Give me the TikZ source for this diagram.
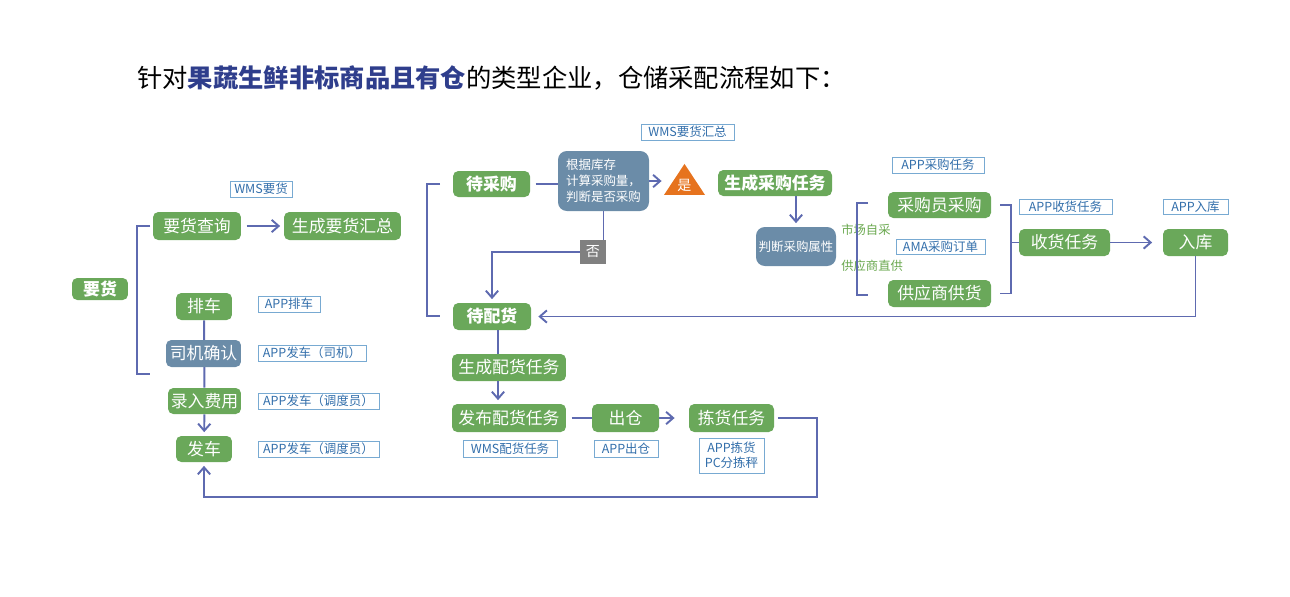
\documentclass[tikz,border=0pt]{standalone}
\usepackage{fontspec}
\setmainfont{Noto Sans CJK SC}
\usetikzlibrary{arrows.meta,shapes.geometric,backgrounds}
\definecolor{taskgreen}{RGB}{106,168,90}
\definecolor{judgeblue}{RGB}{107,140,168}
\definecolor{flowblue}{RGB}{94,106,176}
\definecolor{tagline}{RGB}{120,170,210}
\definecolor{tagtext}{RGB}{50,110,170}
\definecolor{titlenavy}{RGB}{47,62,140}
\definecolor{yesorange}{RGB}{230,115,30}
\definecolor{nogray}{RGB}{128,128,128}
\definecolor{choicegreen}{RGB}{106,168,79}
\tikzset{%
	task/.style   = {fill=taskgreen, text=white, rounded corners=3pt, inner sep=0pt,
		minimum height=0.54cm, font=\fontsize{9.6}{11}\selectfont},
	key/.style    = {task, font=\fontsize{9.6}{11}\selectfont\bfseries}, % bold step
	judge/.style  = {fill=judgeblue, text=white, rounded corners=5pt, inner sep=0pt,
		font=\fontsize{7.1}{9.1}\selectfont},
	tag/.style    = {draw=tagline, line width=0.5pt, text=tagtext, inner sep=0pt,
		minimum height=0.32cm, font=\fontsize{7.1}{8.6}\selectfont}, % system label
	choice/.style = {text=choicegreen, inner sep=0pt, anchor=west,
		font=\fontsize{7}{8}\selectfont},
	flow/.style   = {draw=flowblue, line width=1.1pt},
	>={Straight Barb[length=4pt,width=7pt]}
}

\begin{document}
\begin{tikzpicture}[x=0.02cm,y=-0.02cm]
                \useasboundingbox (0,0) rectangle (1290,596);
                \node[anchor=west, inner sep=0pt, font=\fontsize{14.4}{16}\selectfont] (title) at (137,78)
                    {针对{\color{titlenavy}\bfseries 果蔬生鲜非标商品且有仓}的类型企业，仓储采配流程如下：};

                % left: ordering and dispatch
                \node[key, minimum width=1.12cm, minimum height=0.44cm] (yaohuo) at (100,289) {要货};
                \node[task, minimum width=1.76cm, minimum height=0.56cm] (cx) at (197,226) {要货查询};
                \node[task, minimum width=2.34cm, minimum height=0.56cm] (hz) at (342.5,226) {生成要货汇总};
                \node[task, minimum width=1.12cm] (pc) at (204,306.5) {排车};
                \node[judge, minimum width=1.5cm, minimum height=0.54cm, rounded corners=3pt,
                    font=\fontsize{9.6}{11}\selectfont] (sj) at (203.5,353.5) {司机确认};
                \node[task, minimum width=1.46cm, minimum height=0.52cm] (lr) at (204.5,401) {录入费用};
                \node[task, minimum width=1.12cm, minimum height=0.52cm] (fc) at (204,449) {发车};

                \node[tag, minimum width=1.24cm] (t1) at (261,189) {WMS要货};
                \node[tag, minimum width=1.24cm] (t2) at (289,304) {APP排车};
                \node[tag, minimum width=2.16cm] (t3) at (312,353) {APP发车（司机）};
                \node[tag, minimum width=2.42cm] (t4) at (318.5,401) {APP发车（调度员）};
                \node[tag, minimum width=2.42cm] (t5) at (318.5,449) {APP发车（调度员）};

                % middle: purchase decision
                \node[key, minimum width=1.54cm, minimum height=0.52cm] (dcg) at (491.5,184) {待采购};
                \node[judge, minimum width=1.82cm, minimum height=1.2cm, align=left] (pd) at (603.5,181)
                    {根据库存\\计算采购量，\\判断是否采购};
                \node[isosceles triangle, isosceles triangle stretches, shape border rotate=90,
                    fill=yesorange, text=white, inner sep=0pt, minimum width=0.82cm, minimum height=0.62cm,
                    anchor=apex, font=\fontsize{8}{9}\selectfont] (shi) at (684.5,163) {是};
                \node[fill=nogray, text=white, inner sep=0pt, minimum width=0.52cm, minimum height=0.48cm,
                    font=\fontsize{8}{9}\selectfont] (fou) at (593,252) {否};
                \node[key, minimum width=2.28cm, minimum height=0.52cm] (scrw) at (775,183) {生成采购任务};
                \node[key, minimum width=1.56cm] (dph) at (492,316.5) {待配货};
                \node[tag, minimum width=1.86cm] (t6) at (687.5,132) {WMS要货汇总};

                % right: buying and receiving
                \node[judge, minimum width=1.6cm, minimum height=0.78cm] (sx) at (796,246.5) {判断采购属性};
                \node[choice] (zc) at (841,230) {市场自采};
                \node[choice] (zg) at (841,266) {供应商直供};
                \node[task, minimum width=2.06cm, minimum height=0.52cm] (cgy) at (939.5,205) {采购员采购};
                \node[task, minimum width=2.06cm] (gys) at (939.5,293.5) {供应商供货};
                \node[task, minimum width=1.82cm] (sh) at (1064.5,242.5) {收货任务};
                \node[task, minimum width=1.3cm] (rk) at (1195.5,242.5) {入库};
                \node[tag, minimum width=1.84cm] (t7) at (938,165) {APP采购任务};
                \node[tag, minimum width=1.78cm, minimum height=0.3cm] (t8) at (940.5,246.5) {AMA采购订单};
                \node[tag, minimum width=1.86cm, minimum height=0.3cm] (t9) at (1065.5,206.5) {APP收货任务};
                \node[tag, minimum width=1.3cm, minimum height=0.3cm] (t10) at (1195.5,206.5) {APP入库};

                % bottom: picking and leaving
                \node[task, minimum width=2.28cm] (scph) at (509,367.5) {生成配货任务};
                \node[task, minimum width=2.28cm, minimum height=0.56cm] (fb) at (509,418) {发布配货任务};
                \node[task, minimum width=1.34cm, minimum height=0.56cm] (cc) at (625.5,418) {出仓};
                \node[task, minimum width=1.7cm, minimum height=0.56cm] (jh) at (731.5,418) {拣货任务};
                \node[tag, minimum width=1.88cm, minimum height=0.34cm] (t11) at (510,448.5) {WMS配货任务};
                \node[tag, minimum width=1.28cm, minimum height=0.34cm] (t12) at (626,448.5) {APP出仓};
                \node[tag, minimum width=1.3cm, minimum height=0.7cm, align=center] (t13) at (731.5,455.5)
                    {APP拣货\\PC分拣秤};

                \coordinate (lbt) at (150,226);
                \coordinate (lbb) at (150,374);
                \coordinate (mbt) at (440,184);
                \coordinate (mbb) at (440,316);
                \coordinate (rbt) at (868,203);
                \coordinate (rbb) at (868,295);

                \draw[flow] (lbt) -- ++(-13,0) |- (lbb);
                \draw[flow,->,shorten <=3pt,shorten >=2pt] (cx) -- (hz);
                \begin{scope}[on background layer]
                    \draw[flow] (pc) -- (lr);
                \end{scope}
                \draw[flow,->,shorten >=2pt] (lr) -- (fc);
                \draw[flow,->,shorten <=2pt,shorten >=2pt] (jh.east) -- ++(43,0) -- ++(0,79) -| (fc.south);

                \draw[flow] (mbt) -- ++(-13,0) |- (mbb);
                \draw[flow,shorten <=3pt] (dcg.east) -- (dcg.east -| pd.west);
                \draw[flow,->,shorten >=1pt] (pd.east) -- (pd.east -| shi.left corner);
                \draw[flow] (pd.south) -- (pd.south |- fou.north);
                \draw[flow,->,shorten >=2pt] (fou.west) -| (dph.north);
                \draw[flow,->,shorten >=4pt] (rk.south) |- (dph.east);
                \draw[flow,->,shorten >=2pt] (scrw.south -| sx) -- (sx);

                \draw[flow] (rbt) -- ++(-11,0) |- (rbb);
                \draw[flow,shorten <=5pt,shorten >=5pt] (cgy.east) -- ++(20,0) |- (gys.east);
                \draw[flow] (sh.west) -- ++(-8,0);
                \draw[flow,->,shorten >=6pt] (sh) -- (rk);

                \draw[flow] ([xshift=-0.22cm]scph.north |- dph.south) -- ([xshift=-0.22cm]scph.north);
                \draw[flow,->,shorten >=2pt] ([xshift=-0.22cm]scph.south) -- ([xshift=-0.22cm]fb.north);
                \draw[flow,shorten <=3pt] (fb) -- (cc);
                \draw[flow,->,shorten >=8pt] (cc) -- (jh);
            \end{tikzpicture}
\end{document}
